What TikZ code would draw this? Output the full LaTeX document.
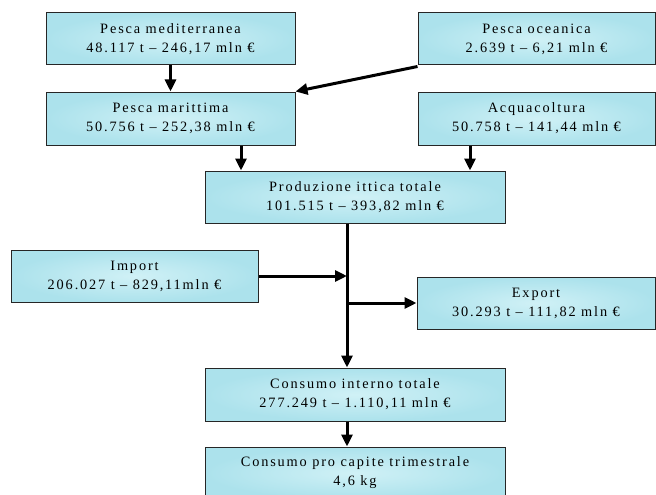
\documentclass[tikz,border=0pt]{standalone}
\usepackage{fontspec}
\setmainfont{Liberation Serif}[LetterSpace=13]
\usetikzlibrary{arrows.meta,calc}
\definecolor{water}{RGB}{208,241,246}
\definecolor{waterdk}{RGB}{172,226,236}
\begin{document}
\begin{tikzpicture}[x=1pt,y=-1pt,
  box/.style={draw=black!85,line width=1pt,inner color=water,outer color=waterdk,
    inner sep=0pt,align=center,font=\fontsize{14.3}{19}\selectfont},
  arr/.style={line width=3pt,-{Triangle[length=12pt,width=11pt]}}]
\useasboundingbox (0,0) rectangle (656,495);
\node[box,minimum width=249pt,minimum height=52pt] (pmed) at (170.5,39) {Pesca mediterranea\\48.117 t – 246,17 mln €};
\node[box,minimum width=249pt,minimum height=53pt] (pmar) at (170.5,118.5) {Pesca marittima\\50.756 t – 252,38 mln €};
\node[box,minimum width=237pt,minimum height=52pt] (poc) at (536.5,39) {Pesca oceanica\\2.639 t – 6,21 mln €};
\node[box,minimum width=237pt,minimum height=53pt] (acq) at (536.5,118.5) {Acquacoltura\\50.758 t – 141,44 mln €};
\node[box,minimum width=300pt,minimum height=52pt] (prod) at (355,197) {Produzione ittica totale\\101.515 t – 393,82 mln €};
\node[box,minimum width=247pt,minimum height=52pt] (imp) at (134.5,276) {Import\\206.027 t – 829,11mln €};
\node[box,minimum width=238pt,minimum height=52pt] (exp) at (536,303) {Export\\30.293 t – 111,82 mln €};
\node[box,minimum width=300pt,minimum height=53pt] (cint) at (355,394.5) {Consumo interno totale\\277.249 t – 1.110,11 mln €};
\node[box,minimum width=300pt,minimum height=52pt] (cpc) at (355,473) {Consumo pro capite trimestrale\\4,6 kg};

\draw[arr] (pmed) -- (pmar);
\draw[arr] ([yshift=-1pt]poc.south west) -- (pmar.north east);
\draw[arr] ([xshift=70.5pt]pmar.south) -- ([xshift=70.5pt]pmar.south |- prod.north);
\draw[arr] ([xshift=-66.5pt]acq.south) -- ([xshift=-66.5pt]acq.south |- prod.north);
\coordinate (j1) at ([xshift=-8pt]prod.south |- imp.east);
\coordinate (j2) at ([xshift=-8pt]prod.south |- exp.west);
\draw[arr] ([xshift=-8pt]prod.south) -- ([xshift=-8pt]cint.north);
\draw[arr] (imp.east) -- (j1);
\draw[arr] (j2) -- (exp.west);
\draw[arr] ([xshift=-8pt]cint.south) -- ([xshift=-8pt]cpc.north);
\end{tikzpicture}
\end{document}
